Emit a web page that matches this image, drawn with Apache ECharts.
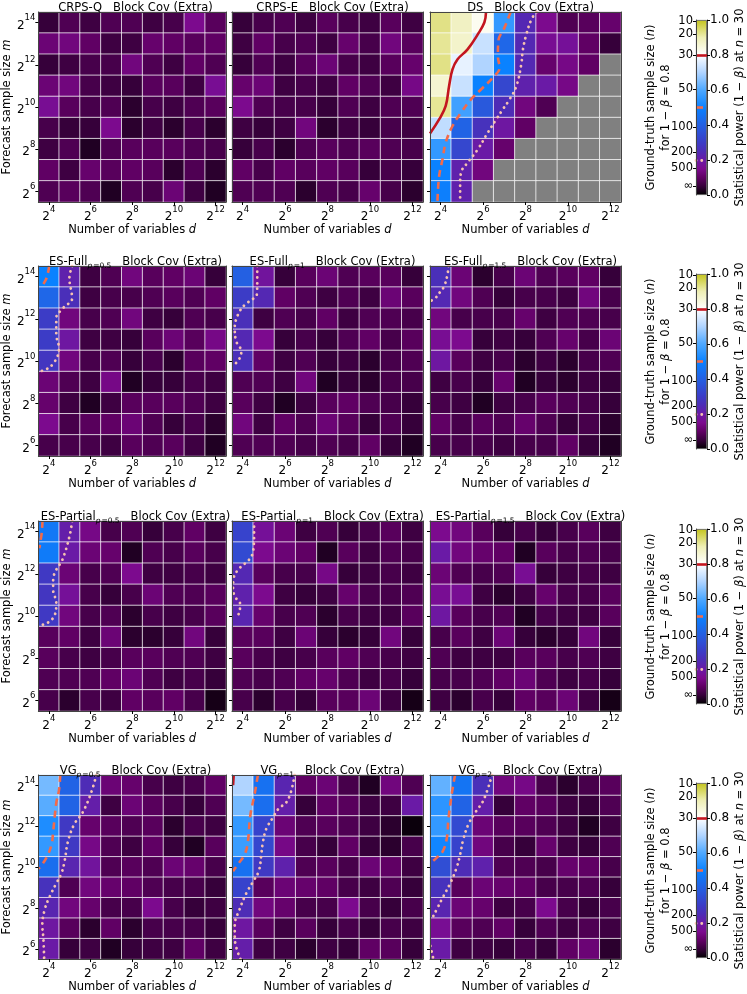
<!DOCTYPE html>
<html>
<head>
<meta charset="utf-8">
<script src="https://cdn.jsdelivr.net/npm/echarts@6/dist/echarts.min.js"></script>
<style>
  html, body { margin: 0; padding: 0; background: #fff; }
  #chart { width: 747px; height: 994px; }
</style>
</head>
<body>
<div id="chart"></div>
<script>
// axes: log2 of d (columns) and log2 of m (rows)
const dExp = [4, 5, 6, 7, 8, 9, 10, 11, 12];
const mExp = [6, 7, 8, 9, 10, 11, 12, 13, 14];

// statistical power per cell, rows from m = 2^14 (top) down to m = 2^6
// null = no result (grey cell)
const crpsQ = [
  [0.05, 0.08, 0.06, 0.08, 0.08, 0.06, 0.07, 0.15, 0.09],
  [0.12, 0.13, 0.10, 0.06, 0.06, 0.11, 0.10, 0.09, 0.10],
  [0.05, 0.06, 0.07, 0.07, 0.13, 0.08, 0.06, 0.10, 0.08],
  [0.12, 0.13, 0.07, 0.06, 0.05, 0.09, 0.09, 0.06, 0.16],
  [0.16, 0.09, 0.07, 0.08, 0.04, 0.07, 0.06, 0.08, 0.09],
  [0.07, 0.05, 0.05, 0.15, 0.04, 0.06, 0.04, 0.07, 0.04],
  [0.06, 0.08, 0.03, 0.08, 0.09, 0.09, 0.09, 0.08, 0.07],
  [0.10, 0.06, 0.11, 0.09, 0.10, 0.09, 0.04, 0.08, 0.04],
  [0.08, 0.09, 0.08, 0.03, 0.08, 0.07, 0.12, 0.06, 0.03]
];
const crpsE = [
  [0.05, 0.07, 0.08, 0.06, 0.09, 0.07, 0.06, 0.09, 0.06],
  [0.06, 0.10, 0.07, 0.08, 0.06, 0.11, 0.07, 0.13, 0.09],
  [0.05, 0.08, 0.06, 0.09, 0.12, 0.07, 0.06, 0.09, 0.11],
  [0.11, 0.12, 0.06, 0.07, 0.06, 0.10, 0.08, 0.06, 0.14],
  [0.15, 0.08, 0.07, 0.07, 0.05, 0.08, 0.06, 0.08, 0.08],
  [0.06, 0.05, 0.06, 0.13, 0.04, 0.06, 0.05, 0.07, 0.06],
  [0.05, 0.07, 0.04, 0.08, 0.09, 0.08, 0.09, 0.08, 0.07],
  [0.10, 0.07, 0.10, 0.09, 0.10, 0.09, 0.05, 0.07, 0.05],
  [0.08, 0.08, 0.08, 0.04, 0.08, 0.07, 0.11, 0.07, 0.04]
];
const ds = [
  [0.93, 0.88, 0.82, 0.56, 0.24, 0.15, 0.08, 0.09, 0.11],
  [0.92, 0.87, 0.73, 0.42, 0.24, 0.16, 0.17, 0.10, 0.05],
  [0.93, 0.77, 0.70, 0.50, 0.24, 0.11, 0.14, 0.10, null],
  [0.86, 0.73, 0.50, 0.33, 0.22, 0.20, 0.14, null, null],
  [0.92, 0.58, 0.38, 0.25, 0.13, 0.08, null, null, null],
  [0.72, 0.41, 0.27, 0.19, 0.10, null, null, null, null],
  [0.56, 0.33, 0.20, 0.11, null, null, null, null, null],
  [0.50, 0.22, 0.13, null, null, null, null, null, null],
  [0.49, 0.22, null, null, null, null, null, null, null]
];
const esFull05 = [
  [0.50, 0.22, 0.06, 0.08, 0.13, 0.09, 0.10, 0.12, 0.05],
  [0.42, 0.26, 0.06, 0.07, 0.07, 0.08, 0.09, 0.08, 0.10],
  [0.30, 0.13, 0.07, 0.08, 0.13, 0.06, 0.05, 0.08, 0.07],
  [0.30, 0.19, 0.06, 0.06, 0.05, 0.09, 0.12, 0.09, 0.14],
  [0.28, 0.13, 0.07, 0.08, 0.05, 0.07, 0.04, 0.09, 0.10],
  [0.12, 0.08, 0.06, 0.14, 0.03, 0.05, 0.05, 0.07, 0.06],
  [0.11, 0.06, 0.03, 0.06, 0.09, 0.09, 0.09, 0.08, 0.06],
  [0.15, 0.07, 0.09, 0.10, 0.12, 0.08, 0.05, 0.07, 0.04],
  [0.07, 0.07, 0.07, 0.06, 0.09, 0.08, 0.09, 0.06, 0.03]
];
const esFull1 = [
  [0.40, 0.18, 0.05, 0.09, 0.12, 0.08, 0.09, 0.09, 0.05],
  [0.30, 0.24, 0.10, 0.08, 0.06, 0.08, 0.06, 0.12, 0.09],
  [0.26, 0.06, 0.08, 0.07, 0.10, 0.06, 0.08, 0.08, 0.07],
  [0.24, 0.15, 0.05, 0.07, 0.05, 0.08, 0.10, 0.07, 0.09],
  [0.26, 0.10, 0.06, 0.08, 0.05, 0.06, 0.04, 0.07, 0.08],
  [0.08, 0.08, 0.06, 0.13, 0.03, 0.05, 0.04, 0.07, 0.07],
  [0.09, 0.06, 0.03, 0.06, 0.09, 0.10, 0.08, 0.07, 0.05],
  [0.13, 0.06, 0.10, 0.08, 0.12, 0.09, 0.05, 0.08, 0.05],
  [0.08, 0.08, 0.08, 0.07, 0.08, 0.07, 0.10, 0.05, 0.03]
];
const esFull15 = [
  [0.26, 0.12, 0.04, 0.07, 0.12, 0.08, 0.09, 0.10, 0.05],
  [0.24, 0.13, 0.08, 0.05, 0.07, 0.07, 0.06, 0.13, 0.07],
  [0.13, 0.07, 0.07, 0.07, 0.11, 0.06, 0.08, 0.08, 0.07],
  [0.16, 0.15, 0.05, 0.06, 0.05, 0.08, 0.11, 0.07, 0.12],
  [0.19, 0.09, 0.06, 0.07, 0.04, 0.06, 0.04, 0.07, 0.08],
  [0.06, 0.07, 0.05, 0.11, 0.03, 0.05, 0.04, 0.06, 0.05],
  [0.07, 0.06, 0.03, 0.06, 0.07, 0.09, 0.08, 0.07, 0.05],
  [0.10, 0.07, 0.09, 0.08, 0.11, 0.08, 0.05, 0.07, 0.04],
  [0.07, 0.07, 0.07, 0.06, 0.07, 0.07, 0.10, 0.05, 0.03]
];
const esPart05 = [
  [0.47, 0.21, 0.14, 0.07, 0.08, 0.05, 0.07, 0.10, 0.06],
  [0.48, 0.20, 0.12, 0.11, 0.03, 0.08, 0.07, 0.09, 0.07],
  [0.29, 0.12, 0.07, 0.08, 0.15, 0.06, 0.06, 0.07, 0.06],
  [0.28, 0.17, 0.07, 0.05, 0.07, 0.12, 0.08, 0.08, 0.09],
  [0.29, 0.13, 0.07, 0.08, 0.04, 0.07, 0.06, 0.07, 0.09],
  [0.09, 0.10, 0.06, 0.12, 0.04, 0.04, 0.05, 0.13, 0.05],
  [0.09, 0.07, 0.06, 0.07, 0.09, 0.09, 0.08, 0.08, 0.06],
  [0.08, 0.08, 0.08, 0.10, 0.12, 0.08, 0.06, 0.07, 0.05],
  [0.07, 0.04, 0.07, 0.06, 0.10, 0.09, 0.10, 0.07, 0.02]
];
const esPart1 = [
  [0.32, 0.17, 0.12, 0.06, 0.08, 0.05, 0.07, 0.09, 0.06],
  [0.34, 0.15, 0.12, 0.10, 0.03, 0.09, 0.06, 0.08, 0.07],
  [0.24, 0.09, 0.07, 0.07, 0.14, 0.05, 0.06, 0.07, 0.06],
  [0.22, 0.15, 0.06, 0.05, 0.06, 0.11, 0.07, 0.07, 0.08],
  [0.23, 0.11, 0.07, 0.08, 0.04, 0.07, 0.06, 0.06, 0.09],
  [0.09, 0.09, 0.06, 0.12, 0.05, 0.04, 0.05, 0.13, 0.05],
  [0.09, 0.07, 0.06, 0.07, 0.09, 0.10, 0.08, 0.07, 0.06],
  [0.08, 0.07, 0.08, 0.10, 0.11, 0.08, 0.06, 0.07, 0.05],
  [0.07, 0.04, 0.07, 0.05, 0.09, 0.09, 0.12, 0.06, 0.02]
];
const esPart15 = [
  [0.15, 0.13, 0.09, 0.05, 0.07, 0.05, 0.07, 0.09, 0.06],
  [0.20, 0.13, 0.11, 0.10, 0.03, 0.09, 0.07, 0.08, 0.07],
  [0.12, 0.08, 0.07, 0.08, 0.16, 0.05, 0.06, 0.07, 0.06],
  [0.16, 0.16, 0.06, 0.04, 0.06, 0.11, 0.07, 0.07, 0.09],
  [0.19, 0.09, 0.07, 0.08, 0.03, 0.07, 0.06, 0.06, 0.09],
  [0.07, 0.09, 0.06, 0.12, 0.05, 0.04, 0.05, 0.13, 0.05],
  [0.08, 0.06, 0.06, 0.06, 0.09, 0.09, 0.07, 0.08, 0.06],
  [0.07, 0.07, 0.08, 0.10, 0.12, 0.08, 0.06, 0.07, 0.05],
  [0.06, 0.04, 0.07, 0.05, 0.10, 0.09, 0.12, 0.06, 0.02]
];
const vg05 = [
  [0.64, 0.41, 0.25, 0.12, 0.11, 0.07, 0.06, 0.07, 0.10],
  [0.61, 0.41, 0.21, 0.06, 0.12, 0.09, 0.07, 0.05, 0.08],
  [0.53, 0.29, 0.11, 0.09, 0.08, 0.09, 0.04, 0.07, 0.06],
  [0.56, 0.29, 0.14, 0.08, 0.06, 0.10, 0.05, 0.03, 0.09],
  [0.44, 0.23, 0.18, 0.08, 0.09, 0.08, 0.12, 0.11, 0.07],
  [0.27, 0.08, 0.13, 0.11, 0.10, 0.08, 0.07, 0.07, 0.05],
  [0.23, 0.13, 0.11, 0.07, 0.07, 0.15, 0.07, 0.05, 0.06],
  [0.19, 0.09, 0.04, 0.10, 0.04, 0.07, 0.07, 0.07, 0.05],
  [0.20, 0.05, 0.06, 0.03, 0.05, 0.06, 0.06, 0.10, 0.06]
];
const vg1 = [
  [0.70, 0.45, 0.23, 0.10, 0.12, 0.07, 0.03, 0.13, 0.08],
  [0.64, 0.44, 0.21, 0.05, 0.10, 0.09, 0.06, 0.06, 0.20],
  [0.56, 0.32, 0.12, 0.08, 0.09, 0.08, 0.06, 0.04, 0.01],
  [0.57, 0.33, 0.14, 0.07, 0.05, 0.10, 0.05, 0.04, 0.07],
  [0.45, 0.29, 0.22, 0.08, 0.09, 0.07, 0.12, 0.10, 0.06],
  [0.32, 0.09, 0.12, 0.11, 0.10, 0.07, 0.06, 0.08, 0.05],
  [0.25, 0.13, 0.11, 0.07, 0.07, 0.15, 0.07, 0.05, 0.07],
  [0.19, 0.09, 0.06, 0.09, 0.05, 0.07, 0.05, 0.07, 0.06],
  [0.21, 0.06, 0.06, 0.04, 0.06, 0.05, 0.10, 0.09, 0.05]
];
const vg2 = [
  [0.62, 0.46, 0.26, 0.13, 0.14, 0.07, 0.04, 0.07, 0.09],
  [0.55, 0.41, 0.21, 0.05, 0.10, 0.09, 0.06, 0.05, 0.08],
  [0.56, 0.34, 0.12, 0.09, 0.09, 0.08, 0.06, 0.03, 0.06],
  [0.51, 0.32, 0.13, 0.07, 0.05, 0.11, 0.06, 0.05, 0.08],
  [0.35, 0.25, 0.22, 0.08, 0.08, 0.07, 0.11, 0.10, 0.07],
  [0.27, 0.09, 0.12, 0.11, 0.10, 0.07, 0.07, 0.08, 0.05],
  [0.23, 0.12, 0.11, 0.06, 0.07, 0.15, 0.07, 0.05, 0.07],
  [0.16, 0.09, 0.08, 0.10, 0.05, 0.08, 0.06, 0.08, 0.06],
  [0.20, 0.06, 0.06, 0.05, 0.07, 0.05, 0.10, 0.12, 0.04]
];

// contour lines as [log2 d, log2 m] points
const dsSolid = [[6.14,14.5],[6.06,14.0],[5.75,13.44],[5.27,12.73],[4.80,12.26],[4.56,11.78],[4.40,11.0],[4.24,10.05],[3.93,9.41],[3.5,8.75]];
const dsDashed = [[7.30,14.5],[7.01,13.76],[6.72,13.13],[6.70,12.41],[6.78,11.86],[6.54,11.47],[5.90,10.83],[5.43,10.36],[4.96,9.73],[4.56,9.10],[4.24,8.31],[4.09,7.52],[3.93,6.73],[3.85,5.5]];
const dsDotted = [[8.52,14.5],[8.28,14.15],[8.04,13.44],[7.88,12.73],[7.80,12.02],[7.57,10.99],[7.25,10.36],[6.93,9.89],[6.62,9.41],[6.22,8.78],[5.75,7.99],[5.27,7.36],[4.96,6.89],[4.92,6.25],[4.92,5.5]];
const esFull05Dashed = [[4.02,14.5],[3.89,13.92],[3.66,13.53]];
const esFull05Dotted = [[5.12,14.5],[4.99,13.92],[5.12,12.97],[4.68,12.50],[4.36,12.03],[4.36,11.25],[4.49,10.62],[4.24,9.91],[3.74,9.55],[3.5,9.52]];
const esFull1Dotted = [[4.69,14.5],[4.69,13.92],[4.68,13.21],[4.49,12.94],[4.10,12.66],[3.78,12.19],[3.63,11.56],[3.70,10.93],[3.94,10.46],[3.78,9.99],[3.55,9.83]];
const esFull15Dotted = [[4.37,14.5],[4.32,14.08],[4.16,13.53],[3.97,13.26],[3.74,12.97],[3.5,12.83]];
const esPart05Dashed = [[3.70,14.5],[3.66,13.92],[3.61,13.60],[3.55,13.21]];
const esPart05Dotted = [[5.12,14.5],[4.99,13.76],[4.65,12.66],[4.36,12.19],[4.21,11.72],[4.21,11.25],[4.36,10.62],[4.21,9.91],[3.61,9.56],[3.5,9.55]];
const esPart1Dotted = [[4.54,14.5],[4.54,13.92],[4.49,13.05],[4.30,12.66],[3.86,12.27],[3.58,11.80],[3.55,11.32],[3.63,10.93],[3.89,10.54],[3.78,9.99],[3.70,9.95]];
const vg05Dashed = [[4.55,14.5],[4.49,13.76],[4.36,13.13],[4.21,11.72],[4.13,11.09],[3.89,10.46],[3.58,9.99],[3.5,9.93]];
const vg05Dotted = [[6.28,14.5],[6.02,13.60],[5.62,12.66],[5.23,12.11],[4.92,11.25],[4.76,10.30],[4.60,9.67],[4.36,9.20],[4.05,8.57],[3.81,7.94],[3.69,7.16],[3.74,6.53],[3.78,5.5]];
const vg1Solid = [[3.58,14.5],[3.55,14.0]];
const vg1Dashed = [[4.72,14.5],[4.57,13.60],[4.36,12.50],[4.25,11.25],[4.10,10.62],[3.78,10.14],[3.55,9.80]];
const vg1Dotted = [[6.45,14.5],[6.14,13.29],[5.67,12.82],[5.43,12.42],[5.12,11.88],[4.96,11.25],[4.88,10.62],[4.77,9.83],[4.49,9.28],[4.18,8.73],[3.86,7.94],[3.63,7.16],[3.63,6.53],[3.90,5.5]];
const vg2Dashed = [[4.68,14.5],[4.53,13.60],[4.37,12.35],[4.29,11.40],[4.10,10.77],[3.82,10.46],[3.55,10.22]];
const vg2Dotted = [[6.42,14.5],[6.03,13.29],[5.63,12.66],[5.32,12.11],[5.08,11.40],[4.92,10.62],[4.76,9.99],[4.45,9.20],[4.13,8.57],[3.82,7.94],[3.58,7.47],[3.5,7.40]];
const vg2DottedLow = [[3.52,6.14],[3.66,5.5]];

// colorbar
const powerLevels = [0.8, 0.5, 0.2];
const nTickPos = [0.995, 0.92, 0.8, 0.606, 0.388, 0.246, 0.155, 0.05];
const nTickLabels = ['10', '20', '30', '50', '100', '200', '500', '\u221e'];

const cmapStops = [
  [0.00, '#000000'], [0.05, '#36003a'], [0.10, '#600064'], [0.15, '#7c0a8e'],
  [0.20, '#6a1aa6'], [0.25, '#4e2cb6'], [0.30, '#3c3cc6'], [0.40, '#2460e2'],
  [0.50, '#0a82ff'], [0.60, '#4ea8ff'], [0.70, '#b0d4ff'], [0.80, '#ffffff'],
  [0.90, '#eeeeb4'], [1.00, '#c4c41c']
];
const missingColor = '#808080';

const panels = [
  { name: 'CRPS-Q', values: crpsQ, lines: [] },
  { name: 'CRPS-E', values: crpsE, lines: [] },
  { name: 'DS', values: ds, lines: [[dsSolid, 0.8], [dsDashed, 0.5], [dsDotted, 0.2]] },
  { name: 'ES-Full', sub: '0.5', values: esFull05, lines: [[esFull05Dashed, 0.5], [esFull05Dotted, 0.2]] },
  { name: 'ES-Full', sub: '1', values: esFull1, lines: [[esFull1Dotted, 0.2]] },
  { name: 'ES-Full', sub: '1.5', values: esFull15, lines: [[esFull15Dotted, 0.2]] },
  { name: 'ES-Partial', sub: '0.5', values: esPart05, lines: [[esPart05Dashed, 0.5], [esPart05Dotted, 0.2]] },
  { name: 'ES-Partial', sub: '1', values: esPart1, lines: [[esPart1Dotted, 0.2]] },
  { name: 'ES-Partial', sub: '1.5', values: esPart15, lines: [] },
  { name: 'VG', sub: '0.5', values: vg05, lines: [[vg05Dashed, 0.5], [vg05Dotted, 0.2]] },
  { name: 'VG', sub: '1', values: vg1, lines: [[vg1Solid, 0.8], [vg1Dashed, 0.5], [vg1Dotted, 0.2]] },
  { name: 'VG', sub: '2', values: vg2, lines: [[vg2Dashed, 0.5], [vg2Dotted, 0.2], [vg2DottedLow, 0.2]] }
];

const FONT = 'DejaVu Sans';
const panelLeft = [35, 232, 430];
const rowTop = [12, 266, 521, 775];
const PW = 191, PH = 190;
const CB_LEFT = 696, CB_W = 16, CB_OFF = 8, CB_H = 175;

function levelStyle(level) {
  if (level === 0.8) return { color: '#c3151f', width: 2.6, type: 'solid' };
  if (level === 0.5) return { color: '#f26b4a', width: 2.6, type: [7, 5] };
  return { color: '#f6c2b0', width: 2.8, type: [0.1, 5.6], cap: 'round' };
}

function hexRgb(c) {
  return [1, 3, 5].map(i => parseInt(c.slice(i, i + 2), 16));
}
function cmapAt(t) {
  for (let k = 1; k < cmapStops.length; k++) {
    const [t1, c1] = cmapStops[k];
    const [t0, c0] = cmapStops[k - 1];
    if (t <= t1) {
      const f = (t - t0) / (t1 - t0);
      const a = hexRgb(c0), b = hexRgb(c1);
      return 'rgb(' + a.map((v, j) => Math.round(v + (b[j] - v) * f)).join(',') + ')';
    }
  }
  return cmapStops[cmapStops.length - 1][1];
}
const cmapColors = [];
for (let k = 0; k <= 100; k++) cmapColors.push(cmapAt(k / 100));

const supRich = {
  b: { fontSize: 12, fontFamily: FONT, color: '#000', lineHeight: 18, verticalAlign: 'bottom' },
  p: { fontSize: 8.5, fontFamily: FONT, color: '#000', lineHeight: 10, verticalAlign: 'top' }
};
const expLabel = v => '{b|2}{p|' + v + '}';
const italicRich = { i: { fontSize: 11.5, fontFamily: FONT, fontStyle: 'italic', color: '#000' } };

const grids = [], xAxes = [], yAxes = [], series = [], titles = [], heatIdx = [];

panels.forEach((p, i) => {
  const row = Math.floor(i / 3), col = i % 3;
  const left = panelLeft[col], top = rowTop[row];
  grids.push({ left, top, width: PW, height: PH });

  const titleText = p.sub
    ? '{n|' + p.name + '}{si|p}{s|=' + p.sub + '}{n|   Block Cov (Extra)}'
    : '{n|' + p.name + '   Block Cov (Extra)}';
  titles.push({
    text: titleText, left: left + PW / 2, top: top - 16, textAlign: 'center',
    textStyle: {
      fontSize: 11.5, fontWeight: 'normal', fontFamily: FONT, color: '#000',
      rich: {
        n: { fontSize: 11.5, fontFamily: FONT, color: '#000', lineHeight: 15, verticalAlign: 'middle' },
        si: { fontSize: 7.5, fontFamily: FONT, fontStyle: 'italic', color: '#000', lineHeight: 8, verticalAlign: 'bottom', padding: [0, 1, 0, 0] },
        s: { fontSize: 7.5, fontFamily: FONT, color: '#000', lineHeight: 8, verticalAlign: 'bottom' }
      }
    }
  });

  const frame = { show: true, lineStyle: { color: '#444', width: 1 } };
  xAxes.push({
    type: 'category', gridIndex: i, data: dExp, z: 5,
    axisLine: frame,
    axisTick: { show: true, interval: 1, alignWithLabel: true, length: 3, lineStyle: { color: '#000' } },
    axisLabel: { interval: 1, margin: 3, formatter: expLabel, rich: supRich },
    splitLine: { show: false },
    name: 'Number of variables {i|d}', nameLocation: 'middle', nameGap: 19,
    nameTextStyle: { fontSize: 11.5, fontFamily: FONT, color: '#000', rich: italicRich }
  });
  xAxes.push({
    type: 'value', gridIndex: i, min: 3.5, max: 12.5, position: 'top', z: 5,
    axisLine: frame, axisTick: { show: false }, axisLabel: { show: false }, splitLine: { show: false }
  });
  yAxes.push({
    type: 'category', gridIndex: i, data: mExp, z: 5,
    axisLine: frame,
    axisTick: { show: true, interval: 1, alignWithLabel: true, length: 3, lineStyle: { color: '#000' } },
    axisLabel: { show: col === 0, interval: 1, margin: 3, formatter: expLabel, rich: supRich },
    splitLine: { show: false },
    name: col === 0 ? 'Forecast sample size {i|m}' : '', nameLocation: 'middle', nameGap: 22, nameRotate: 90,
    nameTextStyle: { fontSize: 11.5, fontFamily: FONT, color: '#000', rich: italicRich }
  });
  yAxes.push({
    type: 'value', gridIndex: i, min: 5.5, max: 14.5, position: 'right', z: 5,
    axisLine: frame, axisTick: { show: false }, axisLabel: { show: false }, splitLine: { show: false }
  });

  const data = [], missing = [];
  p.values.forEach((r, ri) => {
    r.forEach((v, ci) => {
      const y = mExp.length - 1 - ri;
      if (v === null) missing.push([ci, y, 0]);
      else data.push([ci, y, v]);
    });
  });
  heatIdx.push(series.length);
  series.push({
    type: 'heatmap', xAxisIndex: 2 * i, yAxisIndex: 2 * i, data,
    itemStyle: { borderColor: 'rgba(255,255,255,0.72)', borderWidth: 1 },
    emphasis: { disabled: true }, silent: true
  });
  if (missing.length) {
    series.push({
      type: 'heatmap', xAxisIndex: 2 * i, yAxisIndex: 2 * i, data: missing,
      itemStyle: { color: missingColor, borderColor: 'rgba(255,255,255,0.72)', borderWidth: 1 },
      emphasis: { disabled: true }, silent: true
    });
  }

  p.lines.forEach(([pts, level]) => {
    series.push({
      type: 'line', xAxisIndex: 2 * i + 1, yAxisIndex: 2 * i + 1, data: pts,
      smooth: 0.4, symbol: 'none', clip: true, silent: true, z: 4,
      lineStyle: levelStyle(level)
    });
  });
});

// colorbars, one per row
rowTop.forEach((top) => {
  const g = grids.length;
  grids.push({ left: CB_LEFT, top: top + CB_OFF, width: CB_W, height: CB_H });
  const xi = xAxes.length;
  xAxes.push({ type: 'category', gridIndex: g, data: [''], show: false, boundaryGap: true });
  const yi = yAxes.length;
  yAxes.push({
    type: 'value', gridIndex: g, min: 0, max: 1, position: 'left', z: 5,
    axisLine: { show: true, lineStyle: { color: '#444', width: 1 } },
    axisTick: { show: true, length: 3, customValues: nTickPos, lineStyle: { color: '#000' } },
    axisLabel: {
      show: true, margin: 3, customValues: nTickPos, fontSize: 11.5, fontFamily: FONT, color: '#000',
      formatter: v => {
        const k = nTickPos.findIndex(t => Math.abs(t - v) < 1e-6);
        return k < 0 ? '' : nTickLabels[k];
      }
    },
    splitLine: { show: false },
    name: 'Ground-truth sample size ({i|n})\nfor 1 \u2212 {i|\u03b2} = 0.8',
    nameLocation: 'middle', nameRotate: 90, nameGap: 22, nameMoveOverlap: false,
    nameTextStyle: { fontSize: 11.5, fontFamily: FONT, color: '#000', lineHeight: 15, align: 'center', rich: italicRich }
  });
  yAxes.push({
    type: 'value', gridIndex: g, min: 0, max: 1, interval: 0.2, position: 'right', z: 5,
    axisLine: { show: true, lineStyle: { color: '#444', width: 1 } },
    axisTick: { show: true, length: 3, lineStyle: { color: '#000' } },
    axisLabel: { margin: 3, fontSize: 12, fontFamily: FONT, color: '#000', formatter: v => v.toFixed(1) },
    splitLine: { show: false },
    name: 'Statistical power (1 \u2212 {i|\u03b2}) at {i|n} = 30',
    nameLocation: 'middle', nameRotate: 90, nameGap: 27,
    nameTextStyle: { fontSize: 11.5, fontFamily: FONT, color: '#000', rich: italicRich }
  });
  series.push({
    type: 'bar', xAxisIndex: xi, yAxisIndex: yi + 1, data: [1], barWidth: '100%',
    silent: true,
    itemStyle: {
      color: {
        type: 'linear', x: 0, y: 1, x2: 0, y2: 0,
        colorStops: cmapStops.map(([o, c]) => ({ offset: o, color: c }))
      },
      borderColor: '#555', borderWidth: 0.8
    },
    markLine: {
      silent: true, symbol: 'none', label: { show: false },
      data: powerLevels.map(l => ({ yAxis: l, lineStyle: levelStyle(l) }))
    }
  });
});

const chart = echarts.init(document.getElementById('chart'));
chart.setOption({
  animation: false,
  textStyle: { fontFamily: FONT, color: '#000' },
  title: titles,
  grid: grids,
  xAxis: xAxes,
  yAxis: yAxes,
  visualMap: [{
    type: 'continuous', show: false, min: 0, max: 1, dimension: 2,
    seriesIndex: heatIdx, inRange: { color: cmapColors }
  }],
  series
});
</script>
</body>
</html>
